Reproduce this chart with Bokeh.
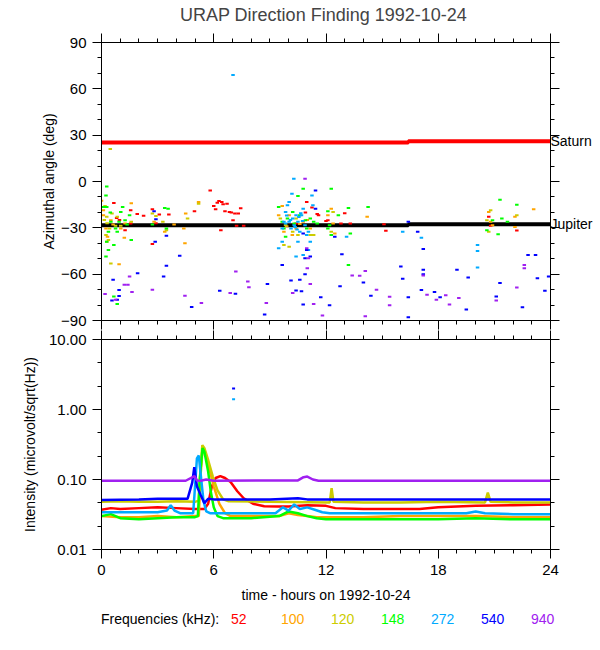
from bokeh.plotting import figure
from bokeh.models import Range1d, LinearAxis, LogAxis, FixedTicker, Div
from bokeh.layouts import column
from bokeh.embed import file_html
from bokeh.resources import INLINE

FONT = "Liberation Sans"

# ---------------- data ----------------
freq_labels = ["52", "100", "120", "148", "272", "540", "940"]
freq_colors = ["#FF0000", "#FFA500", "#CCCC00", "#00FF00", "#00AAFF", "#0000FF", "#A020F0"]

# planet directions (deg)
planet_names = ["Saturn", "Jupiter"]
saturn_t = [0, 16.4, 16.4, 24]
saturn_deg = [25.3, 25.3, 26.1, 26.1]
jupiter_t = [0, 16.4, 16.4, 24]
jupiter_deg = [-28.3, -28.3, -27.6, -27.6]

# azimuth scatter (hour, deg)
az52_t = [0.66, 0.81, 0.96, 1.26, 1.56, 1.56, 1.91, 2.25, 2.72, 2.72, 2.91, 3.09, 3.6, 4.97, 5.81, 6.0,
          6.19, 6.28, 6.43, 6.5, 6.6, 6.71, 6.84, 6.94, 7.03, 7.13, 7.22, 7.31, 7.44, 7.6, 6.38, 6.1,
          10.9, 10.97, 11.25, 11.53, 11.6, 10.4, 12.0, 12.1, 12.8, 13.0, 13.3, 15.1, 15.2, 20.7, 20.8, 22.2]
az52_d = [-13.9, -23.6, -24.9, -31.5, -18.6, -27.2, -21.0, -22.1, -18.0, -40.5, -27.0, -21.4, -21.4, -19.3,
          -5.8, -15.9, -13.7, -12.6, -13.3, -14.8, -19.3, -14.4, -19.7, -20.1, -25.1, -20.8, -28.7, -20.8,
          -17.4, -28.7, -31.5, -18.0, -20.1, -13.3, -16.9, -21.0, -21.9, -27.2, -25.5, -25.1, -27.2, -20.6,
          -27.2, -27.6, -31.9, -22.9, -28.7, -31.7]

az100_t = [0.0, 0.1, 0.1, 0.24, 0.32, 0.28, 0.5, 0.62, 0.94, 1.03, 1.22, 1.59, 1.26, 2.81, 3.38, 3.88, 4.4,
           4.46, 4.5, 5.19, 9.47, 9.66, 9.75, 10.03, 10.2, 10.4, 10.78, 11.16, 12.28, 12.38, 12.1, 12.47,
           14.2, 20.7, 20.8, 20.9, 22.1, 23.1, 22.1, 9.9, 10.6, 11.0]
az100_d = [-12.4, -21.9, -18.6, -30.4, -35.8, -39.0, -25.1, -27.9, -53.6, -30.4, -36.4, -14.1, -27.2, -26.1,
           -32.6, -27.9, -30.4, -40.0, -20.8, -13.3, -21.9, -15.9, -32.6, -21.9, -34.7, -30.4, -26.1, -30.4,
           -17.6, -27.2, -21.9, -33.6, -22.9, -19.7, -26.1, -28.3, -29.4, -18.0, -22.9, -29.0, -27.5, -25.0]

az120_t = [0.47, 0.19, 0.28, 0.24, 0.37, 0.43, 0.56, 0.75, 0.84, 0.5, 1.03, 1.59, 2.72, 2.91, 3.28, 3.47,
           5.19, 4.6, 9.56, 9.75, 9.84, 10.22, 10.5, 10.4, 11.16, 11.34, 12.28, 12.38, 10.03, 20.6, 20.8,
           20.7, 22.2, 0.15, 0.3]
az120_d = [21.0, -15.9, -22.9, -34.7, -37.9, -30.4, -20.8, -28.7, -22.9, -53.1, -28.7, -26.1, -20.8, -22.3,
           -26.1, -31.5, -14.4, -24.0, -24.0, -41.1, -28.3, -32.6, -34.7, -24.0, -34.7, -34.7, -32.6, -19.7,
           -42.2, -25.1, -18.6, -32.6, -21.9, -25.0, -27.0]

az148_t = [0.28, 0.24, 0.1, 0.28, 0.47, 0.5, 0.37, 0.28, 0.24, 0.37, 0.66, 0.84, 0.94, 1.03, 1.13, 1.26,
           1.37, 1.5, 1.59, 0.66, 0.84, 0.75, 2.72, 3.38, 3.56, 3.47, 9.47, 9.66, 9.75, 9.84, 9.94, 10.22,
           10.3, 10.5, 10.78, 10.6, 10.9, 10.97, 11.16, 11.34, 11.53, 12.1, 12.28, 12.1, 12.19, 12.28, 13.2,
           13.3, 13.2, 14.25, 12.66, 20.6, 20.9, 21.3, 21.4, 21.2, 22.2, 21.7]
az148_d = [-3.2, -9.0, -16.5, -16.5, -20.1, -26.1, -32.6, -39.0, -48.6, -44.4, -41.1, -32.6, -26.1, -19.7,
           -16.5, -25.1, -27.9, -21.9, -37.9, -74.4, -79.3, -30.4, -27.9, -17.1, -17.6, -30.4, -16.5, -26.1,
           -30.4, -35.8, -24.0, -19.7, -27.2, -9.4, -4.7, -21.9, -25.1, -30.4, -24.0, -26.1, -27.2, -19.3,
           -4.7, -30.4, -28.3, -34.7, -17.1, -33.6, -54.0, -16.5, -21.9, -31.5, -25.1, -11.8, -24.0, -34.1,
           -15.0, -26.1]

az272_t = [7.03, 9.47, 9.66, 9.75, 9.84, 9.94, 10.03, 10.13, 10.18, 10.28, 10.22, 10.4, 10.5, 10.6, 10.69,
           10.78, 10.88, 10.97, 11.06, 11.16, 11.25, 11.3, 10.4, 10.78, 11.06, 10.5, 9.66, 9.84, 10.03, 10.3,
           13.1, 16.1, 17.1, 20.1, 20.1, 20.1, 9.9, 10.1, 10.35, 10.55, 10.75, 10.45, 10.65]
az272_d = [69.0, -43.3, -39.0, -26.1, -19.7, -15.4, -13.3, -30.4, -7.9, 1.7, -24.0, -21.9, -26.1, -32.6,
           -21.9, -17.6, -28.3, -34.7, -32.6, -39.0, -9.0, -15.4, -48.6, -47.6, -44.4, -39.0, -30.4, -27.2,
           -26.1, -28.3, -35.8, -32.6, -36.4, -41.1, -45.0, -55.7, -22.0, -25.0, -29.5, -23.0, -25.5, -31.0,
           -20.5]

az540_t = [0.56, 0.84, 0.94, 0.94, 0.62, 1.93, 2.81, 2.91, 2.87, 3.32, 3.47, 3.47, 4.18, 4.82, 6.32, 7.16,
           8.72, 8.87, 9.66, 10.13, 10.4, 10.69, 10.78, 10.88, 10.78, 10.97, 10.88, 11.44, 11.44, 10.6, 11.16,
           11.72, 12.19, 12.47, 12.75, 12.85, 14.0, 14.4, 16.0, 16.1, 16.4, 16.4, 16.4, 16.9, 17.2, 17.2, 17.2,
           17.1, 17.8, 18.1, 19.0, 19.6, 19.5, 21.1, 21.3, 22.5, 22.8, 23.2, 23.3, 23.7, 23.9]
az540_d = [-77.1, -76.5, -74.1, -70.3, -63.6, -59.4, -19.3, -24.4, -39.0, -61.5, -54.6, -35.1, -48.0, -81.2,
           -70.7, -72.6, -86.1, -66.4, -54.0, -64.1, -70.5, -71.1, -79.7, -49.7, -33.6, -44.4, -60.0, -5.8,
           -17.6, -63.6, -48.6, -75.0, -80.1, -35.8, -67.9, -47.1, -65.4, -73.9, -55.1, -63.0, -75.0, -87.9,
           -26.1, -32.6, -43.7, -57.2, -60.0, -70.3, -71.6, -75.0, -57.2, -62.1, -82.9, -74.4, -65.8, -81.4,
           -47.6, -47.6, -62.6, -70.7, -61.5]

az940_t = [0.19, 0.75, 1.22, 1.41, 1.5, 1.63, 2.72, 4.46, 5.34, 6.88, 7.18, 7.82, 7.88, 8.81, 10.22, 10.88,
           10.97, 11.06, 11.0, 11.16, 11.34, 11.81, 13.4, 13.8, 14.1, 14.1, 14.7, 15.4, 15.4, 17.2, 17.4, 17.9,
           18.4, 18.6, 19.1, 21.1, 22.2, 22.6, 22.6]
az940_d = [-72.9, -76.5, -66.9, -66.9, -61.5, -71.6, -70.1, -73.9, -78.6, -72.2, -58.3, -64.7, -68.4, -78.6,
           -72.2, 1.7, -43.3, -49.7, -56.1, -66.4, -79.3, -86.8, -60.9, -61.1, -57.9, -87.2, -70.1, -80.1,
           -74.6, -60.9, -73.3, -76.5, -73.7, -79.7, -75.4, -77.1, -68.6, -56.1, -54.0]

# intensity (hour, microvolt/sqrt(Hz))
i52_t = [0, 0.5, 1, 2, 3, 4, 5, 5.5, 5.7, 5.9, 6.1, 6.35, 6.6, 6.9, 7.26, 7.6, 8.1, 8.7, 9.4, 10, 11, 12,
         12.5, 14, 16, 17, 18, 20, 22, 24]
i52_v = [0.037, 0.039, 0.038, 0.039, 0.040, 0.039, 0.038, 0.038, 0.045, 0.080, 0.105, 0.112, 0.105, 0.092,
         0.068, 0.054, 0.045, 0.0415, 0.041, 0.041, 0.043, 0.042, 0.039, 0.038, 0.0378, 0.038, 0.040, 0.042,
         0.043, 0.044]

i100_t = [0, 1, 2, 3, 4, 5, 5.2, 5.3, 5.4, 5.55, 5.75, 6.0, 6.3, 6.6, 6.9, 8, 9.5, 10, 10.5, 11, 11.5, 12,
          14, 16, 18, 20, 22, 24]
i100_v = [0.030, 0.029, 0.029, 0.030, 0.029, 0.030, 0.030, 0.12, 0.27, 0.24, 0.15, 0.08, 0.045, 0.033,
          0.030, 0.030, 0.030, 0.033, 0.031, 0.030, 0.029, 0.029, 0.029, 0.030, 0.030, 0.030, 0.029, 0.029]

i120_t = [0, 1, 2, 3, 4, 5, 5.2, 5.3, 5.39, 5.5, 5.7, 5.95, 6.2, 6.5, 6.8, 9, 12.2, 12.3, 12.4, 14, 16, 18,
          20.5, 20.65, 20.8, 22, 24]
i120_v = [0.048, 0.049, 0.048, 0.048, 0.049, 0.048, 0.050, 0.15, 0.31, 0.28, 0.19, 0.11, 0.07, 0.052, 0.049,
          0.048, 0.047, 0.075, 0.048, 0.047, 0.047, 0.048, 0.047, 0.065, 0.048, 0.047, 0.047]

i148_t = [0, 0.5, 1, 2, 3, 4, 5, 5.15, 5.25, 5.4, 5.5, 5.7, 5.85, 6.0, 6.2, 6.5, 8, 9.5, 10, 10.5, 11, 11.5,
          12, 14, 16, 18, 20, 22, 24]
i148_v = [0.030, 0.032, 0.028, 0.027, 0.028, 0.029, 0.029, 0.030, 0.10, 0.28, 0.25, 0.13, 0.065, 0.040,
          0.030, 0.028, 0.028, 0.030, 0.035, 0.033, 0.030, 0.028, 0.027, 0.027, 0.027, 0.027, 0.028, 0.027,
          0.027]

i272_t = [0, 1, 3, 3.5, 3.7, 3.9, 4.2, 4.9, 5.0, 5.1, 5.2, 5.3, 5.45, 5.6, 5.8, 7, 9.3, 9.7, 10, 10.3, 10.6,
          11, 11.4, 11.8, 12.2, 14, 16, 18, 19.5, 20, 20.5, 22, 24]
i272_v = [0.034, 0.034, 0.034, 0.036, 0.043, 0.036, 0.033, 0.033, 0.08, 0.20, 0.22, 0.12, 0.05, 0.035, 0.033,
          0.033, 0.033, 0.040, 0.036, 0.044, 0.038, 0.040, 0.037, 0.034, 0.033, 0.033, 0.033, 0.033, 0.033,
          0.035, 0.033, 0.032, 0.032]

i540_t = [0, 2, 3, 4.6, 4.85, 4.96, 5.1, 5.3, 5.5, 5.7, 6.0, 9, 10.5, 11, 12, 16, 20, 24]
i540_v = [0.051, 0.052, 0.053, 0.053, 0.09, 0.15, 0.08, 0.06, 0.046, 0.053, 0.052, 0.052, 0.054, 0.052,
          0.052, 0.052, 0.052, 0.052]

i940_t = [0, 4.5, 4.97, 5.1, 5.3, 5.6, 6.0, 10.5, 10.8, 11.0, 11.3, 11.6, 24]
i940_v = [0.096, 0.096, 0.112, 0.097, 0.096, 0.100, 0.096, 0.097, 0.108, 0.110, 0.100, 0.096, 0.096]

spike_t = [7.06, 7.06]
spike_v = [1.99, 1.40]
spike_c = ["#0000FF", "#00AAFF"]

# ticks
hour_major = [0, 6, 12, 18, 24]
hour_minor = list(range(0, 25))
az_major = [-90, -60, -30, 0, 30, 60, 90]
az_minor = list(range(-90, 91, 10))
int_major = [0.01, 0.1, 1.0, 10.0]
int_major_labels = ["0.01", "0.10", "1.00", "10.00"]
int_minor = [0.01, 0.0215, 0.0464, 0.1, 0.215, 0.464, 1.0, 2.15, 4.64, 10.0]


def style_axis(ax, labels=True):
    ax.axis_line_color = "black"
    ax.major_tick_line_color = "black"
    ax.minor_tick_line_color = "black"
    ax.major_tick_out = 9
    ax.major_tick_in = 0
    ax.minor_tick_out = 4
    ax.minor_tick_in = 0
    ax.major_label_text_font = FONT
    ax.major_label_text_color = "black"
    ax.axis_label_text_font = FONT
    ax.axis_label_text_font_style = "normal"
    ax.axis_label_text_font_size = "14px"
    ax.axis_label_text_color = "black"
    if labels:
        ax.major_label_text_font_size = "15px"
    else:
        # ticks drawn outward but without reserving border space
        ax.major_tick_out = 0
        ax.major_tick_in = -9
        ax.minor_tick_out = 0
        ax.minor_tick_in = -4
        ax.major_label_text_font_size = "1px"
        ax.major_label_standoff = 0
        ax.major_label_overrides = {t: "" for t in ax.ticker.ticks}


# ---------------- top panel ----------------
p1 = figure(width=600, height=330, output_backend="svg", toolbar_location=None,
            x_range=Range1d(0, 24), y_range=Range1d(-90, 90),
            min_border_left=101, min_border_right=50, min_border_top=40, min_border_bottom=10,
            x_axis_location=None, y_axis_location=None)
p1.title.text = "URAP Direction Finding  1992-10-24"
p1.title.align = "center"
p1.title.text_font = FONT
p1.title.text_font_size = "18px"
p1.title.text_font_style = "normal"
p1.title.standoff = 5
p1.grid.visible = False
p1.outline_line_color = "black"
p1.background_fill_color = "white"
p1.border_fill_color = "white"

ly = LinearAxis(ticker=FixedTicker(ticks=az_major, minor_ticks=az_minor), axis_label="Azimuthal angle (deg)")
style_axis(ly)
ly.major_label_standoff = 6
ly.axis_label_standoff = 1
p1.add_layout(ly, "left")
ry = LinearAxis(ticker=FixedTicker(ticks=az_major, minor_ticks=az_minor))
style_axis(ry, labels=False)
p1.add_layout(ry, "right")
# planet names as labels of a second right axis
planet_axis = LinearAxis(ticker=FixedTicker(ticks=[saturn_deg[-1], jupiter_deg[-1]], minor_ticks=[]),
                         major_label_overrides={saturn_deg[-1]: planet_names[0],
                                                jupiter_deg[-1]: planet_names[1]})
style_axis(planet_axis)
planet_axis.axis_line_color = None
planet_axis.major_tick_out = 0
planet_axis.major_tick_in = 0
planet_axis.major_label_standoff = 0
planet_axis.major_label_text_font_size = "14px"
p1.add_layout(planet_axis, "right")
bx = LinearAxis(ticker=FixedTicker(ticks=hour_major, minor_ticks=hour_minor))
style_axis(bx, labels=False)
p1.add_layout(bx, "below")
tx = LinearAxis(ticker=FixedTicker(ticks=hour_major, minor_ticks=hour_minor))
style_axis(tx, labels=False)
# reserve room between the ticks and the title
tx.major_label_overrides = {t: " " for t in hour_major}
tx.major_label_standoff = 11
p1.add_layout(tx, "above")

p1.line(saturn_t, saturn_deg, line_color="#FF0000", line_width=4)
p1.line(jupiter_t, jupiter_deg, line_color="black", line_width=4)

az_sets = [(az52_t, az52_d), (az100_t, az100_d), (az120_t, az120_d), (az148_t, az148_d),
           (az272_t, az272_d), (az540_t, az540_d), (az940_t, az940_d)]
for (tt, dd), col in zip(az_sets, freq_colors):
    p1.rect(x=tt, y=dd, width=3.5, height=2, width_units="screen", height_units="screen",
            fill_color=col, line_color=None)

# ---------------- bottom panel ----------------
p2 = figure(width=600, height=281, output_backend="svg", toolbar_location=None,
            x_range=Range1d(0, 24), y_range=Range1d(0.01, 10), y_axis_type="log",
            min_border_left=101, min_border_right=50, min_border_top=9, min_border_bottom=62,
            x_axis_location=None, y_axis_location=None)
p2.grid.visible = False
p2.outline_line_color = "black"

ly2 = LogAxis(ticker=FixedTicker(ticks=int_major, minor_ticks=int_minor),
              axis_label="Intensity (microvolt/sqrt(Hz))",
              major_label_overrides={v: s for v, s in zip(int_major, int_major_labels)})
style_axis(ly2)
ly2.major_label_standoff = 6
ly2.axis_label_standoff = 8
p2.add_layout(ly2, "left")
ry2 = LogAxis(ticker=FixedTicker(ticks=int_major, minor_ticks=int_minor))
style_axis(ry2, labels=False)
p2.add_layout(ry2, "right")
bx2 = LinearAxis(ticker=FixedTicker(ticks=hour_major, minor_ticks=hour_minor),
                 axis_label="time - hours on 1992-10-24")
style_axis(bx2)
bx2.major_label_standoff = 6
bx2.axis_label_standoff = 9
p2.add_layout(bx2, "below")
tx2 = LinearAxis(ticker=FixedTicker(ticks=hour_major, minor_ticks=hour_minor))
style_axis(tx2, labels=False)
p2.add_layout(tx2, "above")

int_sets = [(i52_t, i52_v), (i100_t, i100_v), (i120_t, i120_v), (i148_t, i148_v),
            (i272_t, i272_v), (i540_t, i540_v), (i940_t, i940_v)]
for (tt, vv), col in zip(int_sets, freq_colors):
    p2.line(tt, vv, line_color=col, line_width=2.5)
p2.rect(x=spike_t, y=spike_v, width=3, height=2, width_units="screen", height_units="screen",
        fill_color=spike_c, line_color=None)

# ---------------- legend row ----------------
legend_left = [101] + [231 + 50 * k for k in range(len(freq_labels))]
legend_text = ["Frequencies (kHz):"] + freq_labels
legend_col = ["black"] + freq_colors
spans = "".join(
    f'<span style="position:absolute;left:{lx}px;top:1px;line-height:14px;color:{c};">{t}</span>'
    for lx, t, c in zip(legend_left, legend_text, legend_col))
legend_html = (f'<div style="position:relative;width:600px;height:30px;font-family:\'{FONT}\';'
               f'font-size:14px;white-space:nowrap;">{spans}</div>')
legend = Div(text=legend_html, width=600, height=30, margin=(0, 0, 0, 0))

layout = column(p1, p2, legend, spacing=0)
open("out.html", "w").write(file_html(layout, INLINE))
